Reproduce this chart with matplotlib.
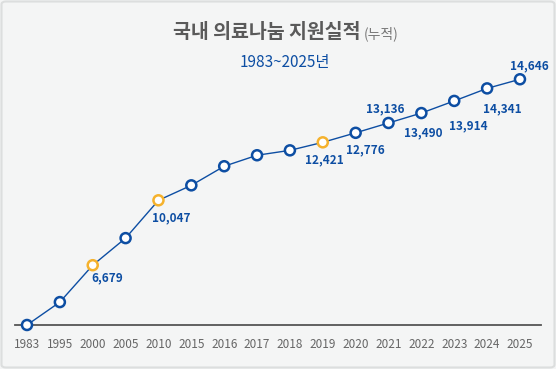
""" cumulative medical support chart, 1983-2025 """
import numpy as np
import matplotlib.pyplot as plt
from matplotlib.patches import FancyBboxPatch


years = ['1983', '1995', '2000', '2005', '2010', '2015', '2016', '2017',
         '2018', '2019', '2020', '2021', '2022', '2023', '2024', '2025']
values = [0, 3920, 6679, 8220, 10047, 10700, 11490, 11925,
          12115, 12421, 12776, 13136, 13490, 13914, 14341, 14646]
label_years = ['2000', '2010', '2019', '2020', '2021', '2022', '2023', '2024', '2025']
highlight_years = ['2000', '2010', '2019']

# label offsets in pixels (dx, dy), dy measured downward
offsets = {'2000': (15, 13), '2010': (13, 18), '2019': (2, 18), '2020': (10, 17),
           '2021': (-3, -14), '2022': (2, 20), '2023': (14, 25), '2024': (15, 20),
           '2025': (9, -13)}

# the original infographic stretches the upper values; a power scale
# (hidden y axis) reproduces that look
POW = 1.8

BLUE = '#0d4ea3'
ORANGE = '#f5b22d'
BG = '#f4f5f5'
KR = ['Noto Sans CJK KR', 'DejaVu Sans']

W, H = 556, 369
fig = plt.figure(figsize=(W/100, H/100), dpi=100, facecolor=BG)
border = FancyBboxPatch((1.5/W, 1.5/H), 1 - 3/W, 1 - 3/H,
                        boxstyle='round,pad=0,rounding_size=0.008',
                        transform=fig.transFigure, facecolor=BG,
                        edgecolor='#dcdede', linewidth=1.5, zorder=-10)
fig.patches.append(border)

ax = fig.add_axes([15/W, (H-325)/H, 526/W, 255/H])
ax.patch.set_alpha(0)
ax.set_yscale('function', functions=(lambda v: np.sign(v)*np.abs(v)**POW,
                                     lambda h: np.sign(h)*np.abs(h)**(1/POW)))

x = np.arange(len(years))
ax.plot(x, values, '-', color=BLUE, linewidth=1.0, zorder=2)
cols = [ORANGE if y in highlight_years else BLUE for y in years]
ax.scatter(x, values, s=52, facecolor='white', edgecolor=cols,
           linewidth=1.8, zorder=3, clip_on=False)

for i, y in enumerate(years):
    if y in label_years:
        dx, dy = offsets[y]
        ax.annotate(f'{values[i]:,}', (i, values[i]), xytext=(dx, -dy),
                    textcoords='offset pixels', ha='center', va='center',
                    color=BLUE, fontsize=8.5, fontweight='bold', family=KR)

ax.set_xlim(-0.365, 15.64)
ax.set_ylim(0, 14950)
for s in ['top', 'right', 'left']:
    ax.spines[s].set_visible(False)
ax.spines['bottom'].set_color('#555555')
ax.spines['bottom'].set_linewidth(1.3)
ax.spines['bottom'].set_zorder(1)
ax.set_yticks([])
ax.set_xticks(x)
ax.set_xticklabels(years, color='#666666', fontsize=8.5, family=KR)
ax.tick_params(axis='x', length=0, pad=9)

fig.text(267/W, (H-33)/H, '국내 의료나눔 지원실적', ha='center', va='center',
         fontsize=14, fontweight='bold', color='#5a5a5a', family=KR)
fig.text(381/W, (H-34)/H, '(누적)', ha='center', va='center',
         fontsize=10, color='#777777', family=KR)
fig.text(285/W, (H-62)/H, '1983~2025년', ha='center', va='center',
         fontsize=11, color=BLUE, family=KR)

fig.savefig('out.png', dpi=100, facecolor=BG)
